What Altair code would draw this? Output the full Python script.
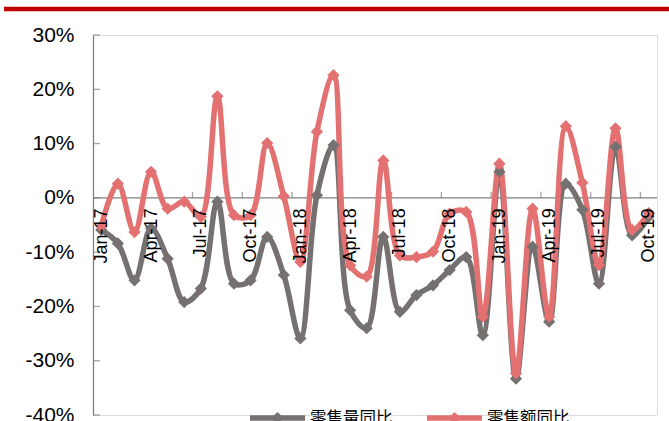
import altair as alt
import pandas as pd

# Monthly categories
months = [
    "Jan-17", "Feb-17", "Mar-17", "Apr-17", "May-17", "Jun-17", "Jul-17", "Aug-17",
    "Sep-17", "Oct-17", "Nov-17", "Dec-17", "Jan-18", "Feb-18", "Mar-18", "Apr-18",
    "May-18", "Jun-18", "Jul-18", "Aug-18", "Sep-18", "Oct-18", "Nov-18", "Dec-18",
    "Jan-19", "Feb-19", "Mar-19", "Apr-19", "May-19", "Jun-19", "Jul-19", "Aug-19",
    "Sep-19", "Oct-19",
]

# Year-on-year growth, %
volume_yoy = [
    -5.9, -8.4, -15.2, -5.6, -11.2, -19.2, -16.7, -0.7, -15.8, -15.2, -7.2, -14.2,
    -25.9, 0.5, 9.7, -20.7, -24.0, -7.2, -21.0, -17.9, -16.1, -13.3, -10.9, -25.3,
    4.8, -33.3, -9.0, -22.8, 2.6, -2.2, -15.8, 9.4, -6.9, -3.5,
]
amount_yoy = [
    -5.2, 2.6, -6.3, 4.8, -2.0, -0.7, -3.5, 18.7, -3.2, -3.2, 10.1, 0.3,
    -11.8, 12.2, 22.6, -12.4, -14.5, 6.9, -10.6, -10.9, -9.9, -2.9, -2.6, -21.9,
    6.3, -32.3, -2.0, -21.9, 13.2, 2.8, -12.4, 12.8, -5.9, -2.8,
]

series_names = ["零售量同比", "零售额同比"]
series_colors = ["#767171", "#E37171"]
y_ticks = [-40, -30, -20, -10, 0, 10, 20, 30]
label_months = months[::3]
tick_months = months[3::3]

W, H = 564, 380
STEP = W / len(months)

df = pd.concat([
    pd.DataFrame({"month": months, "value": volume_yoy, "series": series_names[0]}),
    pd.DataFrame({"month": months, "value": amount_yoy, "series": series_names[1]}),
])

x_scale = alt.Scale(type="point", domain=months, padding=0.5)
y_scale = alt.Scale(domain=[-40, 30], nice=False, zero=False)
color_scale = alt.Scale(domain=series_names, range=series_colors)

zero_px = H * 30 / 70  # pixel row of 0%

base = alt.Chart(df).encode(
    x=alt.X("month:N", scale=x_scale, sort=months, title=None,
            axis=alt.Axis(values=label_months, labelAngle=-90, labelFontSize=18,
                          labelFont="Liberation Sans", labelColor="#000000",
                          labelPadding=10, ticks=False, domain=False,
                          offset=-(H - zero_px), labelOverlap=False, zindex=1)),
    y=alt.Y("value:Q", scale=y_scale, title=None,
            axis=alt.Axis(values=y_ticks, labelExpr="datum.value + '%'",
                          labelFontSize=21, labelFont="Liberation Sans",
                          labelColor="#000000", labelPadding=19, ticks=False,
                          grid=False, domainColor="#7F7F7F", domainWidth=1.3)),
    color=alt.Color("series:N", scale=color_scale, legend=None),
    detail="series:N",
)

lines = base.mark_line(interpolate="catmull-rom", strokeWidth=5.5)
points = base.mark_point(shape="diamond", filled=True, size=150, opacity=1)

# zero baseline acting as the category axis
zero_line = alt.Chart(pd.DataFrame({"v": [0]})).mark_rule(
    color="#7F7F7F", strokeWidth=1.3
).encode(y=alt.Y("v:Q", scale=y_scale), x=alt.value(0), x2=alt.value(W))

# category ticks between every third month, pointing up
x_ticks = alt.Chart(pd.DataFrame({"month": tick_months, "v": 0})).mark_tick(
    orient="vertical", color="#7F7F7F", size=6, thickness=1.3,
    xOffset=-STEP / 2, yOffset=-3
).encode(x=alt.X("month:N", scale=x_scale, sort=months),
         y=alt.Y("v:Q", scale=y_scale))

# value ticks on the inside of the vertical axis
y_tick_marks = alt.Chart(pd.DataFrame({"v": y_ticks})).mark_tick(
    orient="horizontal", color="#7F7F7F", size=7, thickness=1.3
).encode(y=alt.Y("v:Q", scale=y_scale), x=alt.value(3.5))

# red band across the top
top_bar = alt.Chart(pd.DataFrame({"a": [0]})).mark_rule(
    color="#C00000", strokeWidth=4.5
).encode(x=alt.value(-89), x2=alt.value(W + 12), y=alt.value(-26))

# legend along the bottom edge
legend_layers = []
for name, color, x0 in zip(series_names, series_colors, [157, 334]):
    ldf = pd.DataFrame({"name": [name]})
    legend_layers.append(
        alt.Chart(ldf).mark_rule(color=color, strokeWidth=5.5).encode(
            x=alt.value(x0), x2=alt.value(x0 + 55), y=alt.value(383)))
    legend_layers.append(
        alt.Chart(ldf).mark_point(shape="diamond", filled=True, size=150,
                                  color=color, opacity=1).encode(
            x=alt.value(x0 + 27.5), y=alt.value(383)))
    legend_layers.append(
        alt.Chart(ldf).mark_text(align="left", baseline="middle", fontSize=16.5,
                                 font="Noto Sans CJK SC", color="#000000").encode(
            x=alt.value(x0 + 60), y=alt.value(384), text="name:N"))

chart = alt.layer(
    zero_line, x_ticks, y_tick_marks, lines, points, top_bar, *legend_layers
).properties(
    width=W, height=H,
    autosize=alt.AutoSizeParams(type="none"),
    padding={"left": 93, "top": 35, "right": 12, "bottom": 6},
).configure_view(stroke=None).configure(background="#FFFFFF")

chart.save("out.html", embed_options={"renderer": "svg", "actions": False})
